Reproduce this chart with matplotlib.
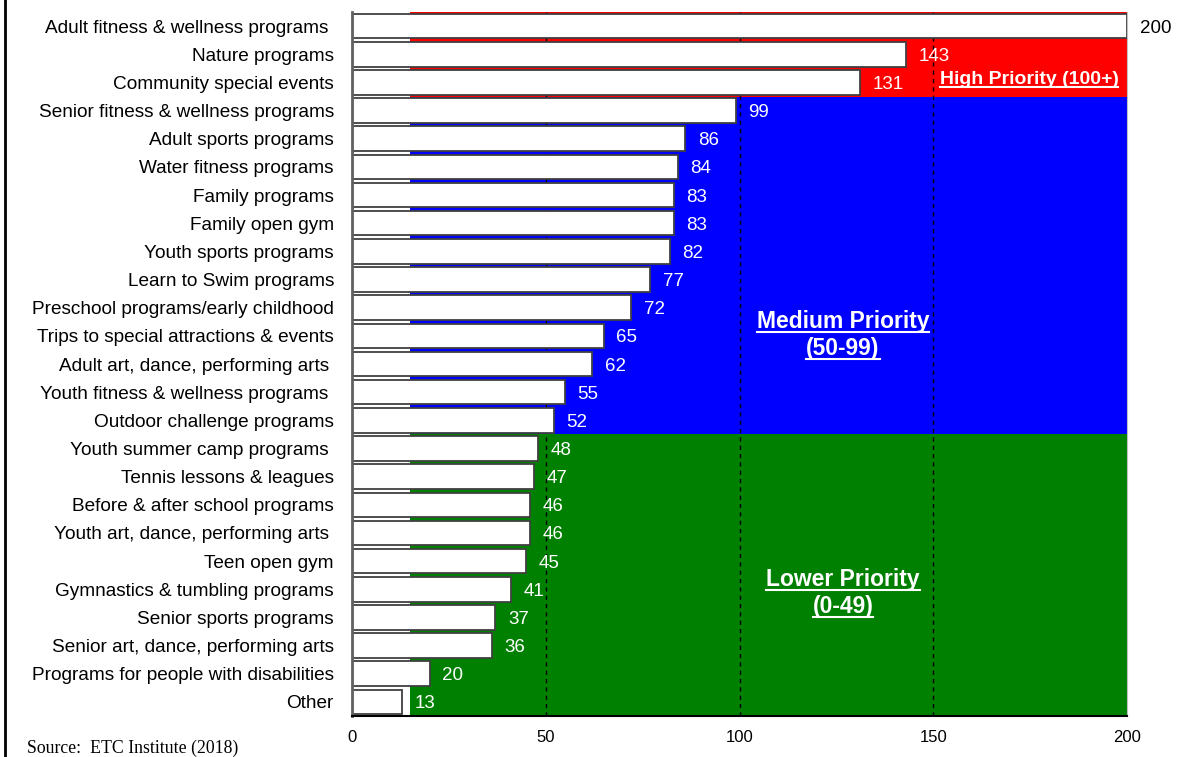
import matplotlib.pyplot as plt
from matplotlib.lines import Line2D

programs = ['Adult fitness & wellness programs ', 'Nature programs', 'Community special events',
            'Senior fitness & wellness programs', 'Adult sports programs', 'Water fitness programs',
            'Family programs', 'Family open gym', 'Youth sports programs', 'Learn to Swim programs',
            'Preschool programs/early childhood', 'Trips to special attractions & events',
            'Adult art, dance, performing arts ', 'Youth fitness & wellness programs ',
            'Outdoor challenge programs', 'Youth summer camp programs ', 'Tennis lessons & leagues',
            'Before & after school programs', 'Youth art, dance, performing arts ', 'Teen open gym',
            'Gymnastics & tumbling programs', 'Senior sports programs', 'Senior art, dance, performing arts',
            'Programs for people with disabilities', 'Other']
scores = [200, 143, 131, 99, 86, 84, 83, 83, 82, 77, 72, 65, 62, 55, 52,
          48, 47, 46, 46, 45, 41, 37, 36, 20, 13]

# priority bands: (first row, last row, colour, label)
bands = [(0, 2, '#FF0000', 'High Priority (100+)'),
         (3, 14, '#0000FF', 'Medium Priority\n(50-99)'),
         (15, 24, '#008000', 'Lower Priority\n(0-49)')]
band_start = 15
xticks = [0, 50, 100, 150, 200]

plt.rcParams['font.family'] = ['Liberation Sans', 'DejaVu Sans']

fig = plt.figure(figsize=(11.82, 7.57), dpi=100)
ax = fig.add_axes([0.2978, 0.0542, 0.9535 - 0.2978, 0.9841 - 0.0542])

n = len(programs)
ypos = list(range(n))

for first, last, color, label in bands:
    ax.fill_betweenx([first - 0.5, last + 0.5], band_start, 200, color=color, lw=0, zorder=0)

for x in [50, 100, 150]:
    ax.axvline(x, color='black', lw=1, ls=(0, (3, 3)), zorder=1)

ax.barh(ypos, scores, height=0.87, color='white', edgecolor='#404040', lw=1.3, zorder=2)

for y, v in zip(ypos, scores):
    c = 'black' if v >= 200 else 'white'
    ax.annotate(str(v), (v, y), xytext=(9, 0), textcoords='offset points',
                ha='left', va='center_baseline', fontsize=13.5, color=c, zorder=3,
                annotation_clip=False)

ax.set_xlim(0, 200)
ax.set_ylim(n - 0.5, -0.5)
ax.set_yticks(ypos)
ax.set_yticklabels(programs, fontsize=13.7)
ax.set_xticks(xticks)
ax.set_xticklabels([str(t) for t in xticks], fontsize=12)
ax.tick_params(axis='y', length=0, pad=13)
ax.tick_params(axis='x', length=0, pad=10)

ax.spines['top'].set_visible(False)
ax.spines['right'].set_color('#c0c0c0')
ax.spines['left'].set_color('#606060')
ax.spines['left'].set_linewidth(2)
ax.spines['bottom'].set_color('black')
ax.spines['bottom'].set_linewidth(1.5)

# priority labels (bold, underlined)
label_pos = [(174.7, [1.88], 14), (126.7, [10.5, 11.45], 16.5), (126.7, [19.65, 20.6], 16.5)]
texts = []
for (first, last, color, label), (xc, ys, fs) in zip(bands, label_pos):
    for line, y in zip(label.split('\n'), ys):
        t = ax.text(xc, y, line, ha='center', va='center', fontsize=fs,
                    fontweight='bold', color='white', zorder=4)
        texts.append(t)

fig.canvas.draw()
renderer = fig.canvas.get_renderer()
inv = fig.transFigure.inverted()
for t in texts:
    bb = t.get_window_extent(renderer)
    (x0, y0), (x1, _) = inv.transform([(bb.x0, bb.y0 + 1), (bb.x1, bb.y1)])
    fig.add_artist(Line2D([x0, x1], [y0, y0], color='white', lw=1.5))

fig.text(27 / 1182, 1 - 748 / 757, 'Source:  ETC Institute (2018)', family='Liberation Serif',
         fontsize=12.8, ha='left', va='center')
fig.add_artist(Line2D([0.004, 0.004], [0, 1], color='black', lw=2))

fig.savefig('out.png', dpi=100)
